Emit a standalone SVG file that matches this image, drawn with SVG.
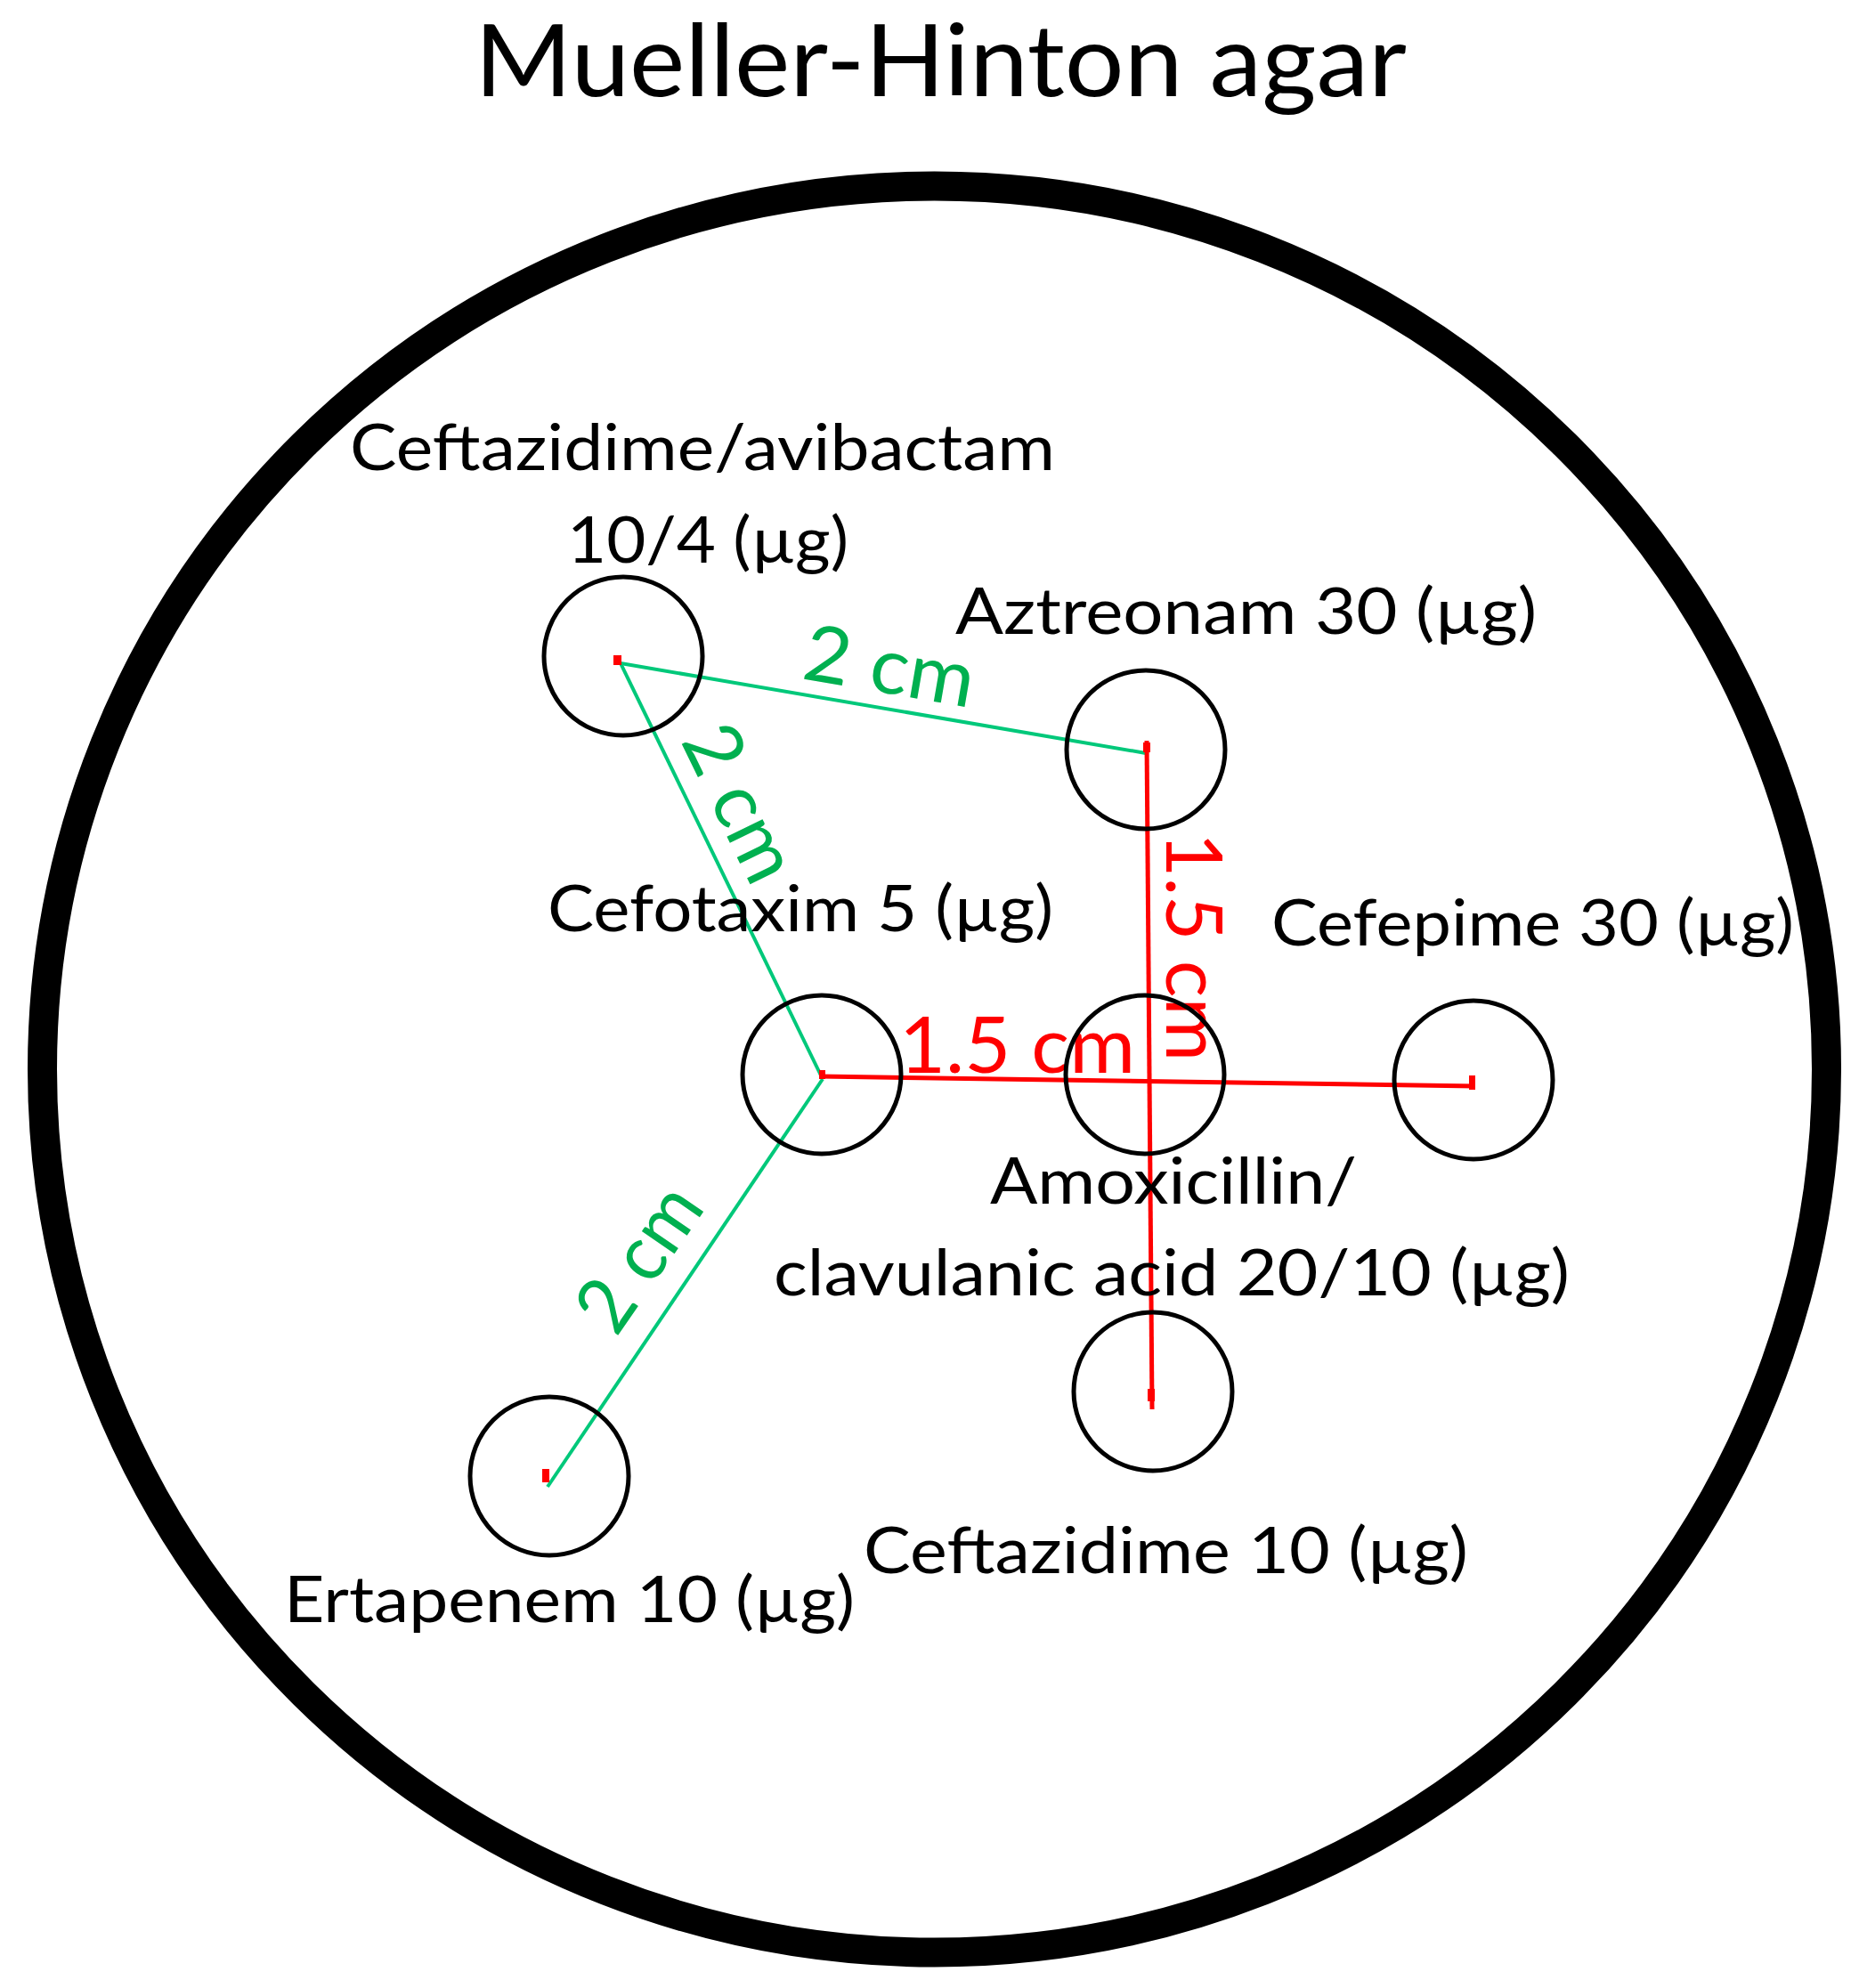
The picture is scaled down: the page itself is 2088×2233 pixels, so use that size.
<svg xmlns="http://www.w3.org/2000/svg" width="2088" height="2233" viewBox="0 0 2088 2233">
<style>
.lbl{font-family:Lato,"Open Sans","Liberation Sans",sans-serif;font-size:72px;fill:#000}
.title{font-family:Lato,"Open Sans","Liberation Sans",sans-serif;font-size:112px;fill:#000}
.disc{fill:none;stroke:#000;stroke-width:5}
.dot{fill:#FF0000}
.g{stroke:#00C87A;stroke-width:4;fill:none}
.r{stroke:#FF0000;stroke-width:5;fill:none}
.gt{font-family:Lato,"Open Sans","Liberation Sans",sans-serif;font-size:88px;fill:#00B050}
.rt{font-family:Lato,"Open Sans","Liberation Sans",sans-serif;font-size:88px;fill:#FF0000}
</style>
<rect width="2088" height="2233" fill="#fff"/>
<text class="title" x="533" y="108" textLength="1047" lengthAdjust="spacingAndGlyphs">Mueller-Hinton agar</text>
<ellipse id="plate" cx="1049.5" cy="1201" rx="1002" ry="992" fill="none" stroke="#000" stroke-width="33"/>
<g id="connectors">
<line class="g" x1="697" y1="745" x2="1287" y2="846"/>
<line class="g" x1="697" y1="745" x2="924" y2="1212"/>
<line class="g" x1="924" y1="1212" x2="615" y2="1670"/>
<line class="r" x1="1288" y1="832" x2="1294" y2="1583"/>
<line class="r" x1="921" y1="1209" x2="1657" y2="1220"/>
<text class="gt" x="899" y="762" transform="rotate(9.8 899 762)" textLength="193" lengthAdjust="spacingAndGlyphs">2 cm</text>
<text class="gt" x="764" y="832" transform="rotate(64 764 832)" textLength="185" lengthAdjust="spacingAndGlyphs">2 cm</text>
<text class="gt" x="692" y="1503" transform="rotate(-55.4 692 1503)" textLength="178" lengthAdjust="spacingAndGlyphs">2 cm</text>
<text class="rt" x="1010" y="1205" textLength="265" lengthAdjust="spacingAndGlyphs">1.5 cm</text>
<text class="rt" x="1310" y="935" transform="rotate(90 1310 935)" textLength="257" lengthAdjust="spacingAndGlyphs">1.5 cm</text>
</g>
<g id="caz-avi">
<circle class="disc" cx="700" cy="737" r="89"/>
<rect class="dot" x="689" y="736" width="9" height="11"/>
<text class="lbl" x="393" y="528" textLength="792" lengthAdjust="spacingAndGlyphs">Ceftazidime/avibactam</text>
<text class="lbl" x="637" y="632" textLength="316" lengthAdjust="spacingAndGlyphs">10/4 (µg)</text>
</g>
<g id="aztreonam">
<circle class="disc" cx="1287" cy="842" r="89"/>
<rect class="dot" x="1284" y="834" width="8" height="11"/>
<text class="lbl" x="1073" y="712" textLength="653" lengthAdjust="spacingAndGlyphs">Aztreonam 30 (µg)</text>
</g>
<g id="cefotaxim">
<circle class="disc" cx="923" cy="1207" r="89"/>
<rect class="dot" x="920" y="1202" width="7" height="10"/>
<text class="lbl" x="615" y="1046" textLength="568" lengthAdjust="spacingAndGlyphs">Cefotaxim 5 (µg)</text>
</g>
<g id="amoxicillin">
<circle class="disc" cx="1286" cy="1207" r="89"/>
<text class="lbl" x="1112" y="1352" textLength="412" lengthAdjust="spacingAndGlyphs">Amoxicillin/</text>
<text class="lbl" x="869" y="1455" textLength="894" lengthAdjust="spacingAndGlyphs">clavulanic acid 20/10 (µg)</text>
</g>
<g id="cefepime">
<circle class="disc" cx="1655" cy="1213" r="89"/>
<rect class="dot" x="1650" y="1208" width="7" height="16"/>
<text class="lbl" x="1428" y="1062" textLength="587" lengthAdjust="spacingAndGlyphs">Cefepime 30 (µg)</text>
</g>
<g id="ertapenem">
<circle class="disc" cx="617" cy="1658" r="89"/>
<rect class="dot" x="609" y="1650" width="8" height="15"/>
<text class="lbl" x="319" y="1822" textLength="641" lengthAdjust="spacingAndGlyphs">Ertapenem 10 (µg)</text>
</g>
<g id="ceftazidime">
<circle class="disc" cx="1295" cy="1563" r="89"/>
<rect class="dot" x="1289" y="1560" width="8" height="14"/>
<text class="lbl" x="970" y="1767" textLength="679" lengthAdjust="spacingAndGlyphs">Ceftazidime 10 (µg)</text>
</g>
</svg>
